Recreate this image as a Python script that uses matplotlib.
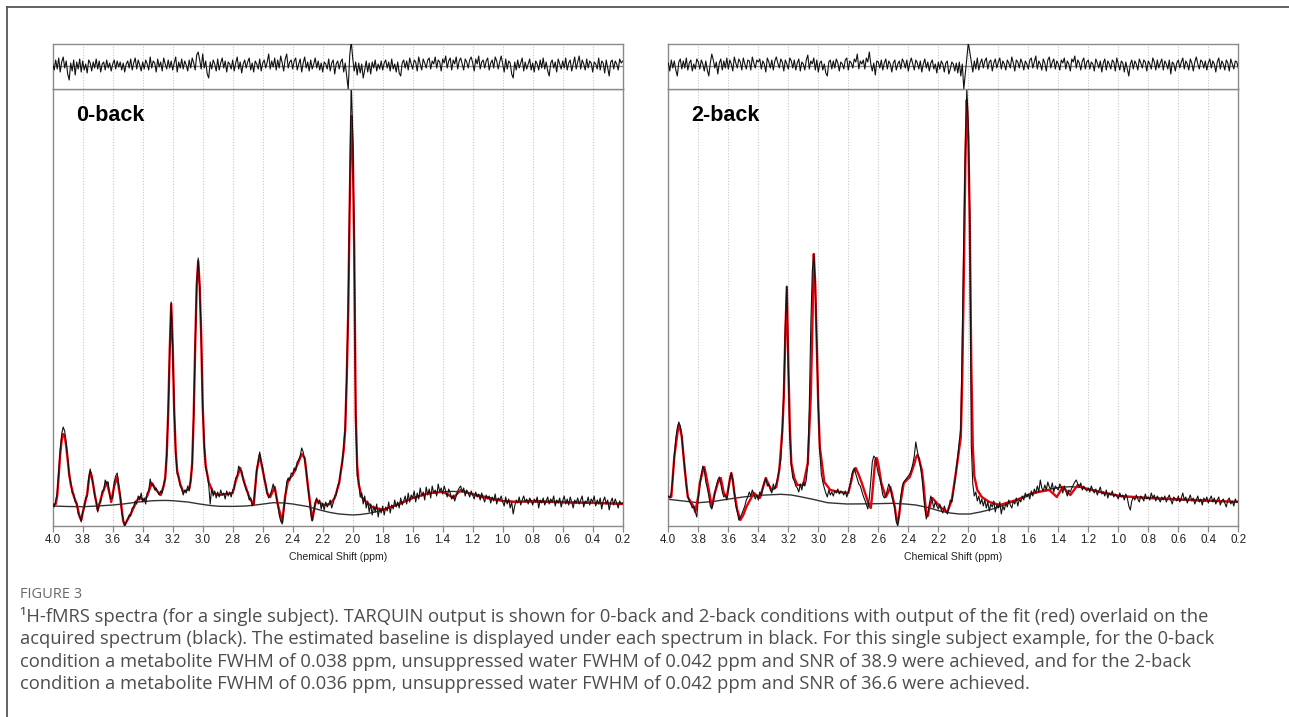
import numpy as np
import matplotlib
matplotlib.use("Agg")
import matplotlib.pyplot as plt
from matplotlib.lines import Line2D

# ---------------- data (intensity in arbitrary units, ppm axis) ----------------
PPM_START, PPM_END = 4.0, 0.2
tick_values = [4.0, 3.8, 3.6, 3.4, 3.2, 3.0, 2.8, 2.6, 2.4, 2.2, 2.0,
               1.8, 1.6, 1.4, 1.2, 1.0, 0.8, 0.6, 0.4, 0.2]
tick_labels = [f"{v:.1f}" for v in tick_values]
panel_titles = ["0-back", "2-back"]

# acquired spectrum, sampled every 0.01 ppm from 4.00 to 0.20
spec_0back = [
    22, 19, 25, 33, 55, 75, 92, 99, 95, 82,
    68, 50, 44, 33, 32, 24, 23, 12, 10, 4,
    14, 18, 28, 30, 48, 57, 49, 42, 30, 25,
    14, 22, 24, 35, 36, 46, 42, 44, 30, 27,
    28, 44, 50, 53, 41, 31, 14, 6, 0, 4,
    7, 11, 10, 18, 19, 25, 22, 30, 26, 33,
    24, 28, 22, 33, 35, 47, 40, 42, 36, 38,
    34, 31, 35, 33, 42, 47, 72, 115, 175, 224,
    178, 116, 73, 52, 49, 40, 38, 31, 36, 33,
    40, 35, 47, 61, 112, 182, 242, 268, 238, 192,
    118, 82, 58, 52, 41, 22, 38, 30, 35, 28,
    34, 29, 36, 31, 33, 27, 35, 30, 34, 29,
    36, 37, 48, 50, 60, 56, 55, 46, 42, 36,
    34, 26, 28, 20, 23, 38, 56, 65, 74, 64,
    58, 47, 42, 32, 28, 31, 36, 42, 37, 30,
    22, 11, 5, 2, 16, 28, 44, 48, 45, 53,
    52, 58, 55, 64, 66, 70, 78, 74, 66, 56,
    40, 28, 13, 5, 14, 24, 28, 22, 26, 17,
    23, 16, 24, 19, 22, 26, 18, 23, 30, 31,
    40, 44, 55, 63, 80, 98, 150, 218, 330, 445,
    395, 283, 110, 50, 44, 29, 33, 22, 30, 18,
    25, 14, 22, 11, 20, 14, 22, 9, 18, 13,
    20, 11, 19, 15, 24, 13, 21, 17, 26, 19,
    24, 18, 28, 21, 25, 30, 22, 33, 24, 31,
    28, 35, 24, 33, 27, 38, 30, 34, 26, 39,
    31, 37, 28, 40, 33, 36, 30, 42, 34, 38,
    32, 40, 35, 29, 37, 33, 27, 31, 25, 30,
    35, 38, 40, 34, 38, 30, 36, 33, 29, 35,
    31, 27, 34, 29, 32, 26, 33, 28, 24, 31,
    27, 30, 23, 29, 25, 32, 22, 28, 26, 30,
    24, 20, 29, 22, 27, 18, 24, 12, 20, 26,
    23, 29, 21, 26, 30, 24, 27, 22, 28, 25,
    21, 27, 24, 29, 18, 26, 23, 28, 21, 25,
    29, 22, 27, 24, 30, 20, 26, 23, 28, 19,
    25, 30, 22, 27, 21, 29, 24, 18, 26, 23,
    28, 22, 26, 30, 19, 25, 23, 29, 21, 27,
    24, 30, 20, 26, 22, 28, 17, 25, 29, 22,
    26, 16, 24, 28, 21, 27, 23, 18, 25, 22,
    23]

spec_2back = [
    30, 28, 33, 48, 70, 88, 98, 104, 100, 90,
    72, 58, 40, 30, 25, 22, 18, 20, 14, 9,
    28, 40, 52, 60, 56, 44, 38, 30, 20, 17,
    24, 33, 40, 46, 49, 42, 34, 29, 31, 26,
    36, 48, 53, 45, 34, 20, 14, 6, 9, 12,
    16, 20, 26, 29, 34, 30, 36, 32, 27, 31,
    26, 34, 30, 38, 44, 48, 40, 42, 36, 33,
    42, 37, 43, 48, 58, 66, 95, 135, 200, 240,
    160, 90, 60, 48, 45, 40, 38, 34, 42, 36,
    44, 40, 46, 62, 120, 200, 255, 272, 240, 180,
    120, 75, 52, 44, 38, 33, 29, 36, 31, 34,
    30, 35, 33, 37, 32, 35, 34, 31, 35, 29,
    34, 40, 48, 55, 58, 52, 47, 42, 40, 35,
    30, 26, 22, 17, 28, 45, 64, 70, 68, 60,
    52, 48, 40, 31, 28, 30, 36, 42, 38, 30,
    24, 18, 4, 0, 14, 30, 40, 44, 46, 48,
    50, 52, 56, 62, 70, 84, 75, 68, 60, 50,
    34, 18, 7, 12, 22, 30, 25, 18, 24, 20,
    17, 22, 16, 13, 20, 15, 12, 18, 26, 24,
    34, 44, 58, 70, 85, 98, 190, 290, 380, 438,
    400, 310, 80, 42, 30, 34, 25, 30, 22, 27,
    20, 26, 18, 24, 15, 22, 19, 25, 14, 21,
    18, 24, 12, 20, 16, 23, 19, 26, 21, 18,
    25, 22, 28, 20, 27, 24, 30, 26, 33, 29,
    32, 27, 35, 30, 37, 33, 40, 34, 46, 38,
    35, 41, 36, 44, 39, 37, 43, 34, 40, 38,
    36, 42, 39, 33, 40, 35, 30, 36, 34, 38,
    41, 44, 46, 42, 39, 43, 36, 40, 37, 35,
    38, 34, 40, 36, 33, 37, 31, 35, 39, 32,
    34, 30, 36, 28, 33, 31, 35, 29, 32, 30,
    27, 33, 29, 31, 26, 32, 28, 20, 16, 25,
    29, 26, 31, 27, 24, 30, 28, 25, 32, 27,
    29, 26, 33, 28, 31, 25, 30, 27, 24, 29,
    26, 30, 24, 28, 31, 26, 22, 29, 27, 25,
    30, 24, 28, 33, 26, 29, 23, 27, 31, 25,
    28, 22, 26, 30, 24, 27, 21, 28, 25, 29,
    23, 27, 30, 24, 28, 22, 26, 29, 21, 25,
    27, 23, 19, 26, 28, 22, 25, 20, 27, 24,
    25]

# fit residual (top strip), sampled every 0.01 ppm from 4.00 to 0.20
resid_0back = [
    2, -4, 6, -3, 8, -6, 4, 9, -2, 5,
    -8, -14, 3, -5, 6, -9, 4, -3, 7, -6,
    5, -4, 2, -7, 6, 3, -5, 4, -2, 7,
    -3, 5, -6, 2, 4, -4, 6, -2, 3, -5,
    2, 6, -3, 5, -1, 4, -4, 3, -6, 2,
    5, -2, 7, -4, 3, 8, -3, 6, 1, -5,
    4, -3, 6, 2, -4, 9, -2, 5, 3, -6,
    7, -1, 4, -5, 8, 2, -3, 6, -2, 5,
    -4, 3, 9, -6, 4, -2, 7, -3, 5, 1,
    -5, 6, -2, 8, 3, -4, 11, 14, 6, -3,
    12, -2, 5, -8, -12, 4, -3, 6, 2, -5,
    7, -4, 3, 8, -2, 5, -6, 4, 2, -3,
    6, -5, 3, 9, -3, 4, -7, 2, 6, -2,
    4, 8, -4, 3, -6, 5, 2, -3, 7, -5,
    3, 6, -2, 4, 12, -3, 5, -1, 8, -4,
    6, -2, 10, 3, -5, 7, 12, -2, 4, 6,
    -3, 5, 8, -4, 2, 7, -6, 3, 9, -2,
    4, -5, 6, -3, 2, 8, -2, 5, -4, 3,
    -6, 4, 2, -3, 7, -5, 3, 6, -8, 2,
    5, -3, 4, 7, -6, 3, -10, -23, 10, 25,
    8, -5, 4, -9, 3, -7, 2, -12, -4, 5,
    -6, 3, -8, 4, -2, 6, -5, 2, -3, 5,
    -4, 3, 6, -2, 4, -5, 7, -3, 2, -6,
    4, -7, -10, 3, 6, -2, 5, -4, 8, 2,
    -3, 6, 4, -5, 9, 2, -4, 7, 3, -2,
    6, 8, -3, 5, 2, 9, -2, 6, 4, -5,
    7, 3, 10, -2, 5, 8, -4, 6, 2, 9,
    -3, 5, 8, 2, -4, 7, 4, -2, 6, 9,
    3, -5, 7, 2, 10, -3, 4, 6, -2, 5,
    8, -4, 3, 6, -2, 9, 5, -3, 4, 10,
    2, -6, 7, -3, 5, 3, -8, -12, 4, -4,
    6, -2, 3, 8, -5, 4, -3, 2, 7, -4,
    3, -6, 5, 2, -4, 6, -2, 8, -3, 4,
    -5, -10, 3, 6, -2, 4, -6, 7, 2, -3,
    5, -2, 8, -4, 3, 6, -5, 2, 9, -3,
    4, 10, -3, 6, 2, -4, 7, -2, 5, 3,
    -6, 4, 2, -3, 8, -4, 5, 3, -7, 6,
    -2, -10, 4, 6, -3, 5, 2, -4, 7, 3,
    5]

resid_2back = [
    3, -5, 6, -2, 5, -4, -10, 4, 7, -3,
    5, -2, 8, -4, 3, 6, -5, 2, -3, 7,
    4, -3, 6, 2, -5, 5, -4, -10, 3, 12,
    6, -2, 4, -8, 3, 7, -4, 5, -2, 8,
    -3, 6, 2, -5, 9, 3, -2, 7, 4, -4,
    8, 2, -3, 6, 5, -4, 9, 3, -2, 6,
    4, 7, -3, 5, 2, -6, 8, 4, -2, 6,
    -4, 5, 9, 3, -2, 7, 4, -5, 6, 2,
    -3, 8, 5, -2, 6, -4, 3, 7, -5, 4,
    2, -4, 6, 11, -3, 5, 2, 8, -4, 6,
    -6, 3, 5, -4, 2, -7, -10, 4, 6, -3,
    5, -2, 7, 3, -5, 4, 2, -3, 6, 8,
    -4, 5, 3, -2, 7, 4, 12, -3, 5, 2,
    6, -3, 8, 4, 14, 2, -5, 3, -9, 5,
    4, -2, 6, -4, 3, 7, -3, 5, 2, -6,
    3, 6, -4, 2, 5, -3, 7, 4, -2, 6,
    -5, 3, 8, 2, -4, 6, 3, -3, 5, -6,
    2, 7, -2, 4, -5, 3, 6, -3, 2, -7,
    4, -3, 5, 2, -6, 3, 5, -8, -3, 4,
    2, -5, 3, -7, 4, -10, 2, -23, -8, 6,
    23, 14, 4, -6, 5, -3, 8, -4, 3, 7,
    -2, 5, 8, -3, 4, 6, -5, 3, 7, -2,
    4, 8, -3, 5, 2, -4, 6, 3, -2, 9,
    3, -5, 6, 4, -2, 7, 3, -4, 5, 2,
    -3, 6, 8, -2, 4, 10, -3, 5, 2, -4,
    7, 3, -5, 6, 9, -2, 4, 7, -3, 5,
    2, -4, 6, 3, 8, -3, 5, 2, -5, 7,
    4, 10, -2, 6, 3, -4, 5, 8, -3, 4,
    6, -3, 4, 2, -5, 7, 3, -2, 5, -6,
    3, 7, -4, 5, 2, -3, 6, 4, -5, 8,
    2, -4, 5, 3, -6, 4, -3, -10, 2, 6,
    -3, 5, 2, -4, 7, 3, -2, 6, 4, -5,
    5, 2, -3, 8, 4, -4, 6, -2, 3, 7,
    -4, 5, 2, -3, 6, -8, 4, 2, -5, 3,
    6, -2, 4, 8, -3, 5, 2, -4, 7, 3,
    -5, 4, 9, 2, -3, 6, 4, -2, 5, -4,
    3, 7, -2, 5, 2, -6, 4, 8, -3, 5,
    2, -4, 6, 3, -5, 7, 2, -3, 5, 4,
    -2]

# TARQUIN fit (red), read at (ppm, intensity)
fit_0back = [
    (4.00, 21), (3.98, 22), (3.97, 30), (3.96, 50), (3.95, 72), (3.94, 86), (3.93, 92),
    (3.92, 90), (3.91, 80), (3.90, 66), (3.89, 52), (3.88, 42), (3.86, 30), (3.84, 22),
    (3.82, 9), (3.81, 6), (3.79, 20), (3.77, 32), (3.76, 45), (3.75, 54), (3.74, 50),
    (3.72, 32), (3.70, 16), (3.67, 32), (3.64, 44), (3.62, 32), (3.61, 24), (3.59, 40),
    (3.57, 49), (3.55, 29), (3.53, 5), (3.52, 1), (3.48, 12), (3.44, 25), (3.42, 29),
    (3.39, 25), (3.37, 30), (3.34, 43), (3.31, 36), (3.28, 31), (3.26, 40), (3.25, 48),
    (3.24, 70), (3.23, 113), (3.22, 175), (3.21, 222), (3.20, 180), (3.19, 115),
    (3.18, 75), (3.17, 55), (3.15, 42), (3.13, 34), (3.09, 37), (3.08, 45), (3.07, 63),
    (3.06, 110), (3.05, 180), (3.04, 240), (3.03, 265), (3.02, 240), (3.01, 190),
    (3.00, 120), (2.99, 80), (2.98, 60), (2.96, 44), (2.93, 33), (2.89, 31), (2.80, 33),
    (2.78, 45), (2.75, 58), (2.72, 42), (2.69, 29), (2.66, 21), (2.64, 55), (2.62, 71),
    (2.60, 56), (2.57, 33), (2.55, 29), (2.52, 39), (2.50, 22), (2.47, 4), (2.45, 30),
    (2.43, 46), (2.40, 51), (2.37, 61), (2.34, 72), (2.32, 68), (2.30, 42), (2.27, 6),
    (2.25, 22), (2.24, 26), (2.20, 21), (2.15, 22), (2.12, 28), (2.09, 43), (2.07, 64),
    (2.06, 76), (2.05, 96), (2.04, 146), (2.03, 213), (2.02, 320), (2.01, 410),
    (2.00, 380), (1.99, 279), (1.98, 113), (1.97, 60), (1.96, 42), (1.94, 29),
    (1.91, 24), (1.87, 19), (1.80, 16), (1.71, 21), (1.60, 28), (1.49, 33), (1.40, 34),
    (1.36, 31), (1.33, 28), (1.28, 36), (1.23, 33), (1.14, 29), (1.00, 25), (0.91, 24),
    (0.82, 25), (0.60, 24), (0.38, 23), (0.20, 22)]

fit_2back = [
    (4.00, 29), (3.98, 29), (3.96, 69), (3.94, 92), (3.93, 101), (3.92, 97), (3.91, 89),
    (3.89, 56), (3.87, 29), (3.83, 19), (3.82, 14), (3.80, 30), (3.79, 43), (3.77, 55),
    (3.76, 59), (3.75, 52), (3.73, 36), (3.71, 19), (3.69, 33), (3.67, 43), (3.65, 48),
    (3.63, 33), (3.61, 29), (3.59, 46), (3.58, 53), (3.57, 46), (3.56, 33), (3.54, 16),
    (3.52, 6), (3.50, 11), (3.48, 19), (3.43, 33), (3.39, 28), (3.37, 38), (3.35, 48),
    (3.33, 41), (3.31, 36), (3.28, 39), (3.26, 56), (3.24, 95), (3.23, 129), (3.22, 190),
    (3.21, 239), (3.20, 163), (3.19, 100), (3.18, 63), (3.16, 48), (3.14, 41), (3.10, 41),
    (3.07, 63), (3.05, 130), (3.04, 196), (3.03, 272), (3.02, 240), (3.01, 179),
    (3.00, 120), (2.99, 79), (2.96, 44), (2.92, 36), (2.86, 34), (2.80, 33), (2.78, 45),
    (2.77, 53), (2.75, 58), (2.73, 51), (2.71, 43), (2.68, 29), (2.66, 20), (2.65, 18),
    (2.64, 32), (2.63, 50), (2.62, 66), (2.61, 68), (2.60, 62), (2.58, 43), (2.55, 29),
    (2.53, 35), (2.52, 39), (2.51, 33), (2.49, 19), (2.48, 8), (2.47, 3), (2.46, 12),
    (2.45, 25), (2.43, 43), (2.39, 49), (2.36, 62), (2.35, 68), (2.34, 71), (2.33, 68),
    (2.31, 56), (2.30, 44), (2.29, 27), (2.28, 12), (2.27, 10), (2.26, 18), (2.24, 28),
    (2.21, 23), (2.18, 18), (2.14, 14), (2.11, 26), (2.08, 56), (2.05, 89), (2.04, 150),
    (2.03, 250), (2.02, 360), (2.01, 426), (2.00, 390), (1.99, 300), (1.98, 160),
    (1.97, 79), (1.96, 50), (1.94, 36), (1.91, 29), (1.86, 24), (1.79, 21), (1.68, 26),
    (1.57, 33), (1.46, 36), (1.41, 29), (1.37, 39), (1.32, 31), (1.27, 41), (1.23, 38),
    (1.12, 34), (0.99, 30), (0.79, 28), (0.50, 26), (0.20, 24)]

# estimated baseline (black smooth curve), read at (ppm, intensity)
base_0back = [
    (4.00, 20), (3.90, 19.5), (3.80, 19.3), (3.70, 20), (3.60, 21), (3.53, 22),
    (3.43, 24), (3.33, 25.3), (3.25, 25.6), (3.20, 25.3), (3.10, 24), (3.02, 22),
    (2.95, 20.5), (2.89, 19.7), (2.80, 19.6), (2.71, 20), (2.62, 21.5), (2.53, 23.3),
    (2.46, 23), (2.40, 22), (2.30, 19.5), (2.22, 16), (2.15, 13.5), (2.09, 12),
    (2.00, 11), (1.95, 11.5), (1.90, 12.5), (1.85, 14), (1.80, 16), (1.75, 18.5),
    (1.70, 21), (1.65, 24.5), (1.60, 27.7), (1.55, 30), (1.50, 32), (1.45, 33.5),
    (1.40, 34.3), (1.33, 34.6), (1.26, 34), (1.18, 31.5), (1.10, 29), (1.05, 27),
    (1.00, 25.3), (0.90, 24.3), (0.80, 24), (0.65, 23.5), (0.50, 23), (0.35, 22.8),
    (0.20, 22.7)]

base_2back = [
    (4.00, 26.7), (3.90, 25), (3.80, 23.3), (3.70, 24.5), (3.61, 26.7), (3.50, 29),
    (3.39, 30.7), (3.25, 31.7), (3.18, 31), (3.12, 29.3), (3.03, 26.5), (2.94, 23.3),
    (2.81, 22), (2.65, 22.2), (2.50, 22.7), (2.42, 22), (2.35, 21), (2.27, 18.5),
    (2.19, 15), (2.12, 13), (2.06, 12), (1.99, 12), (1.92, 14), (1.85, 16.5),
    (1.79, 19.3), (1.70, 24.5), (1.59, 31), (1.50, 35.5), (1.39, 38.7), (1.32, 39.3),
    (1.26, 38.7), (1.19, 37), (1.12, 34.3), (1.05, 32), (0.99, 30), (0.90, 28.7),
    (0.79, 27.7), (0.60, 26), (0.40, 25), (0.20, 24.3)]

spectra = [spec_0back, spec_2back]
residuals = [resid_0back, resid_2back]
fits = [fit_0back, fit_2back]
baselines = [base_0back, base_2back]

caption_head = "FIGURE 3"
caption_lines = [
    "\u00b9H-fMRS spectra (for a single subject). TARQUIN output is shown for 0-back and 2-back conditions with output of the fit (red) overlaid on the",
    "acquired spectrum (black). The estimated baseline is displayed under each spectrum in black. For this single subject example, for the 0-back",
    "condition a metabolite FWHM of 0.038 ppm, unsuppressed water FWHM of 0.042 ppm and SNR of 38.9 were achieved, and for the 2-back",
    "condition a metabolite FWHM of 0.036 ppm, unsuppressed water FWHM of 0.042 ppm and SNR of 36.6 were achieved.",
]

# ---------------- figure ----------------
W, H = 1289, 717
fig = plt.figure(figsize=(W / 100, H / 100), dpi=100)
fig.patch.set_facecolor("white")

SPINE = "#8a8a8a"
GRID = "#c9c9c9"
TICKFONT = ["Liberation Sans", "DejaVu Sans"]


def fx(px):
    return px / W


def fy(py):
    return 1 - py / H


panel_left = [52.7, 668.3]
panel_w = 570
main_top, main_bot = 89, 526
res_top = 43.5

for k in range(2):
    x0 = panel_left[k]
    ax = fig.add_axes([fx(x0), fy(main_bot), panel_w / W, (main_bot - main_top) / H])
    axr = fig.add_axes([fx(x0), fy(main_top), panel_w / W, (main_top - res_top) / H])

    ppm = np.linspace(PPM_START, PPM_END, len(spectra[k]))
    fppm, fval = zip(*fits[k])
    bppm, bval = zip(*baselines[k])

    for a in (ax, axr):
        a.set_xlim(PPM_START, PPM_END)
        for v in tick_values[1:-1]:
            a.axvline(v, color=GRID, lw=0.8, ls=(0, (1, 1.5)), zorder=0)
        for s in a.spines.values():
            s.set_color(SPINE)
            s.set_linewidth(1.0)
        a.set_yticks([])

    # main spectrum panel
    ax.plot(bppm, bval, color="#333333", lw=1.0, zorder=2)
    ax.plot(fppm, fval, color="#e8000b", lw=1.7, zorder=3)
    ax.plot(ppm, spectra[k], color="#111111", lw=0.8, zorder=4)
    ax.set_ylim(0, main_bot - main_top)
    ax.set_xticks(tick_values)
    ax.set_xticklabels(tick_labels, fontsize=8.4, family=TICKFONT, color="#222222")
    ax.tick_params(axis="x", direction="out", length=4, width=0.9, color=SPINE, pad=2)
    ax.set_xlabel("Chemical Shift (ppm)", fontsize=7.6, family=TICKFONT,
                  color="#222222", labelpad=4)
    ax.text(0.041, 0.94, panel_titles[k], transform=ax.transAxes,
            fontsize=15.5, fontweight="bold", va="center", ha="left",
            family=["Liberation Sans Narrow", "Liberation Sans", "DejaVu Sans"])

    # residual strip
    axr.axhline(0, color=SPINE, lw=1.0, zorder=1)
    axr.plot(ppm, residuals[k], color="#111111", lw=0.8, zorder=3)
    axr.set_ylim(-(main_top - 66), 66 - res_top)
    axr.set_xticks([])

# outer frame (left and top edges)
fig.add_artist(Line2D([fx(7), fx(7)], [fy(7), 0], color="#555555", lw=1.3))
fig.add_artist(Line2D([fx(7), 1], [fy(7), fy(7)], color="#555555", lw=1.3))

# caption
CAPFONT = ["Open Sans", "DejaVu Sans"]
fig.text(fx(20), fy(595), caption_head, fontsize=10.5, color="#6a6a6a",
         family=CAPFONT, va="center", ha="left")
for i, line in enumerate(caption_lines):
    fig.text(fx(20), fy(616 + 22.8 * i), line, fontsize=13.2, color="#4d4d4d",
             family=CAPFONT, va="center", ha="left")

fig.savefig("out.png", dpi=100, facecolor="white")
